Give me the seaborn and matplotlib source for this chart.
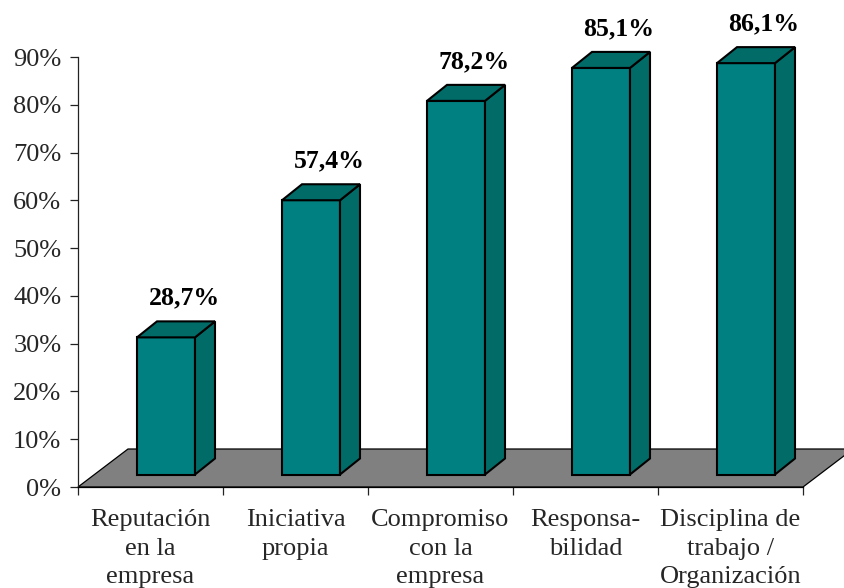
import numpy as np
import pandas as pd
import matplotlib
matplotlib.use("Agg")
import matplotlib.pyplot as plt
import seaborn as sns
from matplotlib.patches import Polygon

# Data
categories = [
    "Reputación\nen la\nempresa",
    "Iniciativa\npropia",
    "Compromiso\ncon la\nempresa",
    "Responsa-\nbilidad",
    "Disciplina de\ntrabajo /\nOrganización",
]
values = [28.7, 57.4, 78.2, 85.1, 86.1]
value_labels = ["28,7%", "57,4%", "78,2%", "85,1%", "86,1%"]
y_ticks = [0, 10, 20, 30, 40, 50, 60, 70, 80, 90]
y_tick_labels = [f"{t}%" for t in y_ticks]

FRONT = "#008080"
SHADE = "#006b67"
FLOOR = "#808080"

sns.set_theme(style="white")
plt.rcParams["font.family"] = ["Liberation Serif", "DejaVu Serif"]

W, H = 844, 588
fig = plt.figure(figsize=(W / 100, H / 100), dpi=100)
ax_left, ax_bottom, ax_w, ax_h = 78, 101, 725, 430
ax = fig.add_axes([ax_left / W, ax_bottom / H, ax_w / W, ax_h / H])
ax.set_xlim(-0.5, 4.5)
ax.set_ylim(0, 90)

px_x = ax_w / 5.0      # pixels per category
px_y = ax_h / 90.0     # pixels per percent


def px(dx, dy):
    """Pixel offset -> data offset."""
    return dx / px_x, dy / px_y


# Floor of the 3-D plot
fdx, fdy = px(50, 38)
floor = Polygon(
    [(-0.5, 0), (4.5, 0), (4.5 + fdx, fdy), (-0.5 + fdx, fdy)],
    closed=True, facecolor=FLOOR, edgecolor="black", linewidth=0.9,
    zorder=1, clip_on=False,
)

# Front faces of the bars
df = pd.DataFrame({"categoria": categories, "valor": values})
sns.barplot(
    data=df, x="categoria", y="valor", color=FRONT, saturation=1,
    width=0.4, edgecolor="black", linewidth=1.5, ax=ax, zorder=3,
)
bars = list(ax.patches)
ax.add_patch(floor)

shift_x, base = px(15.5, 12.5)
sdx, sdy = px(20, 16)
_, lab_off = px(0, 33)

for patch, lab in zip(bars, value_labels):
    patch.set_x(patch.get_x() + shift_x)
    patch.set_y(base)
    x0 = patch.get_x()
    x1 = x0 + patch.get_width()
    y0 = base
    y1 = base + patch.get_height()
    side = Polygon([(x1, y0), (x1 + sdx, y0 + sdy), (x1 + sdx, y1 + sdy), (x1, y1)],
                   closed=True, facecolor=SHADE, edgecolor="black",
                   linewidth=1.5, zorder=3, clip_on=False)
    top = Polygon([(x0, y1), (x0 + sdx, y1 + sdy), (x1 + sdx, y1 + sdy), (x1, y1)],
                  closed=True, facecolor=SHADE, edgecolor="black",
                  linewidth=1.5, zorder=3, clip_on=False)
    ax.add_patch(side)
    ax.add_patch(top)
    ax.text((x0 + x1) / 2 + sdx * 0.9, y1 + lab_off, lab, ha="center",
            va="baseline", fontsize=18.5, fontweight="bold", color="black",
            clip_on=False)

# Axes
for s in ("top", "right"):
    ax.spines[s].set_visible(False)
ax.spines["left"].set_color("#222222")
ax.spines["left"].set_linewidth(0.9)
ax.spines["bottom"].set_color("black")
ax.spines["bottom"].set_linewidth(0.9)

ax.set_yticks(y_ticks)
ax.set_yticklabels(y_tick_labels, fontsize=19)
ax.set_xticks(np.arange(-0.5, 5.0, 1.0))
ax.set_xticklabels([])
ax.set_xticks(range(5), minor=True)
ax.set_xticklabels(categories, minor=True, fontsize=19, linespacing=1.38)
ax.tick_params(axis="y", which="major", length=6, width=0.9, color="#222222",
               direction="out", left=True, pad=6)
ax.tick_params(axis="x", which="major", length=6, width=0.9, color="#222222",
               direction="out", bottom=True)
ax.tick_params(axis="x", which="minor", length=0, pad=16)
ax.set_xlabel("")
ax.set_ylabel("")
ax.grid(False)

fig.savefig("out.png", dpi=100)
